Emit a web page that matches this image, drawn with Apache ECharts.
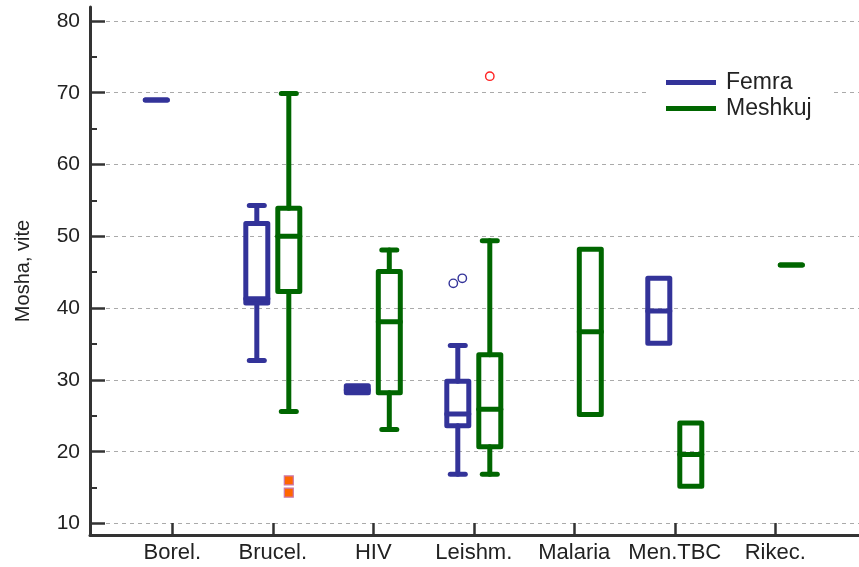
<!DOCTYPE html>
<html><head><meta charset="utf-8">
<script src="https://cdn.jsdelivr.net/npm/echarts@6/dist/echarts.min.js"></script>
<style>html,body{margin:0;padding:0;background:#fff}#c{width:859px;height:567px}</style>
</head><body><div id="c"></div>
<script>
const categories = ['Borel.', 'Brucel.', 'HIV', 'Leishm.', 'Malaria', 'Men.TBC', 'Rikec.'];
// [min, Q1, median, Q3, max] per category (null = no data)
const femraStats = [
  [69, 69, 69, 69, 69],
  [32.7, 40.7, 41.3, 51.8, 54.3],
  [28.2, 28.2, 28.6, 29.2, 29.2],
  [16.85, 23.6, 25.25, 29.8, 34.8],
  null,
  [35.1, 35.1, 39.6, 44.15, 44.15],
  null
];
const meshkujStats = [
  null,
  [25.6, 42.3, 50.0, 53.9, 69.9],
  [23.1, 28.2, 38.1, 45.1, 48.1],
  [16.85, 20.7, 25.9, 33.5, 49.4],
  [25.2, 25.2, 36.7, 48.2, 48.2],
  [15.2, 15.2, 19.6, 24.0, 24.0],
  [46, 46, 46, 46, 46]
];
// [category index, value, kind]
const femraOutliers = [[3, 43.45, 'circle'], [3, 44.15, 'circle']];
const meshkujOutliers = [[1, 16.0, 'square'], [1, 14.3, 'square'], [3, 72.3, 'circleRed']];
const yTicks = [10, 20, 30, 40, 50, 60, 70, 80];
const yMinorTicks = [15, 25, 35, 45, 55, 65, 75];
const xTicks = [1, 2, 3, 4, 5, 6, 7];

const FONT = '"Liberation Sans", Arial, sans-serif';
const COLORS = { Femra: '#333399', Meshkuj: '#006600' };
const OFFSETS = { Femra: -16, Meshkuj: 16 };

function boxData(stats) {
  const out = [];
  stats.forEach((s, i) => { if (s) out.push([i + 1].concat(s)); });
  return out;
}

function boxRender(color, off) {
  return function (params, api) {
    const x = api.value(0);
    const v = [1, 2, 3, 4, 5].map(k => api.value(k));
    const p = v.map(val => api.coord([x, val]));
    const cx = p[0][0] + off;
    const y = p.map(q => q[1]);
    const hw = 11, cw = 7.5, lw = 5;
    const st = { stroke: color, lineWidth: lw, fill: null, lineCap: 'round', lineJoin: 'round' };
    const ch = [];
    if (v[4] > v[3]) {
      ch.push({ type: 'line', shape: { x1: cx, y1: y[3], x2: cx, y2: y[4] }, style: st });
      ch.push({ type: 'line', shape: { x1: cx - cw, y1: y[4], x2: cx + cw, y2: y[4] }, style: st });
    }
    if (v[0] < v[1]) {
      ch.push({ type: 'line', shape: { x1: cx, y1: y[1], x2: cx, y2: y[0] }, style: st });
      ch.push({ type: 'line', shape: { x1: cx - cw, y1: y[0], x2: cx + cw, y2: y[0] }, style: st });
    }
    if (y[1] - y[3] > 0.5) {
      ch.push({ type: 'rect', shape: { x: cx - hw, y: y[3], width: 2 * hw, height: y[1] - y[3] }, style: st });
    } else {
      ch.push({ type: 'line', shape: { x1: cx - hw, y1: y[3], x2: cx + hw, y2: y[3] }, style: st });
    }
    ch.push({ type: 'line', shape: { x1: cx - hw, y1: y[2], x2: cx + hw, y2: y[2] }, style: st });
    return { type: 'group', children: ch };
  };
}

function outlierItems(list) {
  // horizontal dodge for outliers that would overlap
  return list.map((o, i) => {
    let dodge = 0;
    list.forEach((q, j) => {
      if (j !== i && q[0] === o[0] && Math.abs(q[1] - o[1]) < 1.2) dodge = o[1] < q[1] ? -4.5 : 4.5;
    });
    return [o[0] + 1, o[1], dodge];
  });
}

function outlierRender(list, off) {
  return function (params, api) {
    const x = api.value(0), val = api.value(1), dodge = api.value(2);
    const kind = list[params.dataIndex][2];
    const p = api.coord([x, val]);
    const cx = p[0] + off + dodge, cy = p[1];
    if (kind === 'square') {
      return { type: 'rect', shape: { x: cx - 4.5, y: cy - 4.5, width: 9, height: 9 },
        style: { fill: '#ff6600', stroke: '#cc77aa', lineWidth: 1.2 } };
    }
    return { type: 'circle', shape: { cx: cx, cy: cy, r: 4.2 },
      style: { fill: null, stroke: kind === 'circleRed' ? '#ff2222' : '#333399', lineWidth: 1.4 } };
  };
}

const chart = echarts.init(document.getElementById('c'), null, { renderer: 'canvas' });
chart.setOption({
  animation: false,
  backgroundColor: '#fff',
  grid: { left: 90, right: 0, top: 7, bottom: 32, containLabel: false, outerBoundsMode: 'none' },
  legend: {
    data: ['Femra', 'Meshkuj'], orient: 'vertical', left: 646, top: 65,
    padding: [6, 20, 6, 20], backgroundColor: '#fff',
    icon: 'rect', itemWidth: 50, itemHeight: 5, itemGap: 3,
    textStyle: { fontSize: 23, color: '#222', fontFamily: FONT, padding: [0, 0, 0, 5] }
  },
  xAxis: [{
    type: 'value', min: 0.181, max: 7.833, position: 'bottom',
    axisLine: { onZero: false, lineStyle: { color: '#333', width: 3 } },
    axisTick: { show: true, inside: true, length: 12, customValues: xTicks, lineStyle: { color: '#333', width: 2.5 } },
    axisLabel: { customValues: xTicks, formatter: v => categories[Math.round(v) - 1] || '',
      fontSize: 22, color: '#222', margin: 7, fontFamily: FONT },
    splitLine: { show: false }
  }],
  yAxis: [{
    type: 'value', min: 8.4, max: 81.94, position: 'left',
    name: 'Mosha, vite', nameLocation: 'middle', nameGap: 57, nameRotate: 90,
    nameTextStyle: { fontSize: 20, color: '#222', fontFamily: FONT },
    axisLine: { show: true, onZero: false, lineStyle: { color: '#333', width: 3 } },
    axisTick: { show: true, inside: true, length: 15, customValues: yTicks, lineStyle: { color: '#333', width: 2.5 } },
    axisLabel: { customValues: yTicks, fontSize: 21, color: '#222', margin: 10, fontFamily: FONT },
    splitLine: { show: true, lineStyle: { color: '#aaa', width: 1, type: [4, 4] } }
  }, {
    type: 'value', min: 8.4, max: 81.94, position: 'left',
    axisLine: { show: false, onZero: false },
    axisTick: { show: true, inside: true, length: 7, customValues: yMinorTicks, lineStyle: { color: '#333', width: 2 } },
    axisLabel: { show: false },
    splitLine: { show: false }
  }],
  series: [
    { type: 'custom', name: 'Femra', data: boxData(femraStats), encode: { x: 0, y: [1, 2, 3, 4, 5] },
      itemStyle: { color: COLORS.Femra }, renderItem: boxRender(COLORS.Femra, OFFSETS.Femra), z: 3 },
    { type: 'custom', name: 'Meshkuj', data: boxData(meshkujStats), encode: { x: 0, y: [1, 2, 3, 4, 5] },
      itemStyle: { color: COLORS.Meshkuj }, renderItem: boxRender(COLORS.Meshkuj, OFFSETS.Meshkuj), z: 3 },
    { type: 'custom', name: 'Femra outliers', data: outlierItems(femraOutliers), encode: { x: 0, y: 1 },
      renderItem: outlierRender(femraOutliers, OFFSETS.Femra), z: 4 },
    { type: 'custom', name: 'Meshkuj outliers', data: outlierItems(meshkujOutliers), encode: { x: 0, y: 1 },
      renderItem: outlierRender(meshkujOutliers, OFFSETS.Meshkuj), z: 4 }
  ]
});
</script></body></html>
